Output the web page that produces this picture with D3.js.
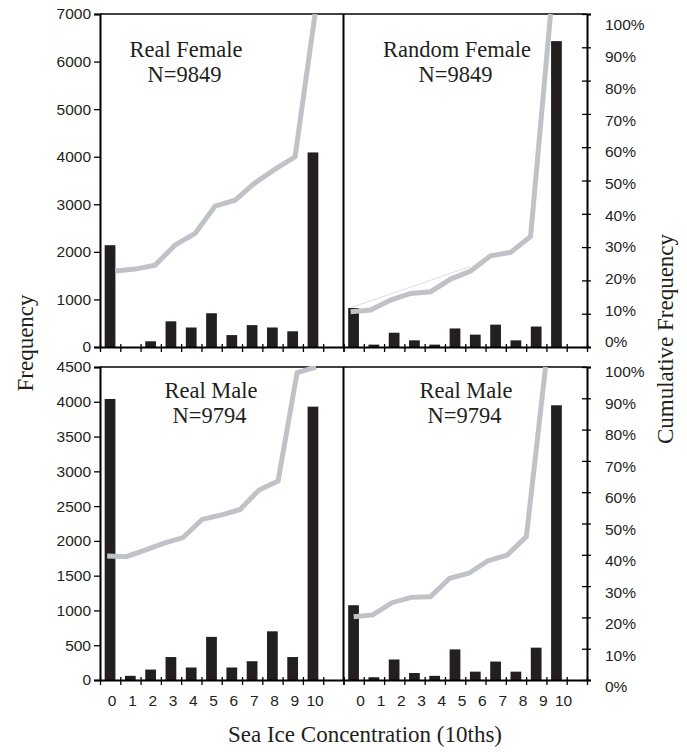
<!DOCTYPE html>
<html><head><meta charset="utf-8">
<script src="https://cdn.jsdelivr.net/npm/d3@7"></script>
<style>body{margin:0;background:#fff} svg{display:block}</style>
</head><body>
<svg id="chart" width="687" height="752"></svg>
<script>
// ---------- data ----------
const bins = ["0","1","2","3","4","5","6","7","8","9","10"];
const realFemale   = [2140, 0, 120, 540, 410, 710, 250, 460, 410, 330, 4090];
const randomFemale = [820, 50, 300, 140, 50, 390, 260, 470, 140, 430, 6430];
const realMaleA    = [4040, 60, 150, 330, 180, 620, 180, 270, 700, 330, 3930];
const realMaleB    = [1075, 40, 295, 100, 60, 440, 120, 265, 120, 465, 3950];
// cumulative frequency (%)
const cumRealFemale   = [22.8, 23.4, 24.6, 30.6, 34.1, 42.3, 44.1, 49.3, 53.4, 57.1, 100];
const cumRandomFemale = [10.6, 11.1, 14.1, 16.1, 16.6, 20.4, 22.8, 27.4, 28.4, 33.2, 100];
const cumRealMaleA    = [39.6, 39.4, 41.5, 43.7, 45.5, 51.3, 52.7, 54.5, 60.7, 63.6, 98.2, 100];
const cumRealMaleB    = [20.2, 20.8, 24.7, 26.4, 26.6, 32.5, 34.1, 38.1, 39.9, 45.8, 100];
const refRandomFemaleBins = [0, 6];
const refRandomFemale     = [11.8, 24.2];
const freqTicksTop    = [0, 1000, 2000, 3000, 4000, 5000, 6000, 7000];
const freqTicksBottom = [0, 500, 1000, 1500, 2000, 2500, 3000, 3500, 4000, 4500];
const pctTicks = [0, 10, 20, 30, 40, 50, 60, 70, 80, 90, 100];
const panelTitles = ["Real Female", "Random Female", "Real Male", "Real Male"];
const panelN      = ["N=9849", "N=9849", "N=9794", "N=9794"];
const yLabel = "Frequency";
const y2Label = "Cumulative Frequency";
const xLabel = "Sea Ice Concentration (10ths)";

// ---------- layout ----------
const svg = d3.select("#chart");
const L = 100, R = 587, M = (L + R) / 2;
const SERIF = "'Liberation Serif','Times New Roman',serif";
const SANS = "'Liberation Sans',Arial,sans-serif";
const BAR = "#231f20", LINE = "#bfc3c7", TXT = "#231f20";

const rows = [
  {y0: 14, y1: 347, max: 7000, ticks: freqTicksTop, pctLab: [342, 25], labels: false, ty: [57, 82]},
  {y0: 367, y1: 680, max: 4500, ticks: freqTicksBottom, pctLab: [687, 372], labels: true, ty: [398, 423]}
];
// shift = pixel nudge of the cumulative line's first/last vertex relative to bin centres
const panels = [
  {row: 0, side: 0, bars: realFemale, cum: cumRealFemale, title: panelTitles[0], n: panelN[0], tx: 186, lab: 2, shift: [5, 2]},
  {row: 0, side: 1, bars: randomFemale, cum: cumRandomFemale, title: panelTitles[1], n: panelN[1], tx: 457, lab: 7, shift: [-3, -6], ref: true},
  {row: 1, side: 0, bars: realMaleA, cum: cumRealMaleA, title: panelTitles[2], n: panelN[2], tx: 211, lab: 2, shift: [-3, 3]},
  {row: 1, side: 1, bars: realMaleB, cum: cumRealMaleB, title: panelTitles[3], n: panelN[3], tx: 466, lab: 7, shift: [0, -11]}
];

rows.forEach((r, ri) => {
  r.y = d3.scaleLinear().domain([0, r.max]).range([r.y1, r.y0]);
  r.p = d3.scaleLinear().domain([0, 100]).range([r.y1, r.y0]);
  r.pl = d3.scaleLinear().domain([0, 100]).range(r.pctLab);

  // left axis
  const gl = svg.append("g").attr("transform", `translate(${L},0)`)
    .call(d3.axisLeft(r.y).tickValues(r.ticks).tickFormat(d3.format("d")).tickSize(6).tickPadding(3));
  gl.select(".domain").attr("stroke", "#000").attr("stroke-width", 2);
  gl.selectAll(".tick line").attr("stroke", "#000").attr("stroke-width", 1.3);
  gl.selectAll(".tick text").attr("font-family", SANS).attr("font-size", 15.5).attr("fill", TXT);

  // right axis (ticks) + labels
  const gr = svg.append("g").attr("transform", `translate(${R},0)`)
    .call(d3.axisRight(r.p).tickValues(pctTicks).tickSize(4).tickFormat(""));
  gr.select(".domain").attr("stroke", "#000").attr("stroke-width", 2);
  gr.selectAll(".tick line").attr("x1", -5).attr("x2", 4).attr("stroke", "#000").attr("stroke-width", 1.3);
  svg.append("g").selectAll("text").data(pctTicks).join("text")
    .attr("x", R + 18).attr("y", d => r.pl(d)).attr("dy", "0.35em")
    .attr("font-family", SANS).attr("font-size", 15.5).attr("fill", TXT)
    .text(d => d + "%");

  // top border
  svg.append("line").attr("x1", L).attr("x2", R).attr("y1", r.y0).attr("y2", r.y0)
    .attr("stroke", "#000").attr("stroke-width", 1.6);
  // divider
  svg.append("line").attr("x1", M).attr("x2", M).attr("y1", r.y0).attr("y2", r.y1)
    .attr("stroke", "#000").attr("stroke-width", 2);

  // clip
  svg.append("clipPath").attr("id", "clip" + ri).append("rect")
    .attr("x", L).attr("y", r.y0 - 1).attr("width", R - L).attr("height", r.y1 - r.y0 + 1);
});

panels.forEach(pn => {
  const r = rows[pn.row];
  const x0 = pn.side === 0 ? L : M, x1 = pn.side === 0 ? M : R;
  const slot = d3.scaleBand().domain(d3.range(12)).range([x0, x1]).padding(0);
  const bw = slot.bandwidth();
  const cx = i => slot(i) + bw / 2;

  // bars
  svg.append("g").selectAll("rect").data(pn.bars).join("rect")
    .attr("x", (d, i) => slot(i) + bw * 0.23)
    .attr("width", bw * 0.53)
    .attr("y", d => r.y(d))
    .attr("height", d => r.y(0) - r.y(d))
    .attr("fill", BAR);

  // cumulative line (vertices spread evenly over bin centres 0..10)
  const lx = d3.scalePoint().domain(d3.range(pn.cum.length))
    .range([cx(0) + pn.shift[0], cx(10) + pn.shift[1]]);
  const gline = svg.append("g").attr("clip-path", `url(#clip${pn.row})`);
  if (pn.ref) {
    const rx = d3.scaleLinear().domain([0, 10]).range(lx.range());
    gline.append("path")
      .datum(refRandomFemale.map((v, k) => [rx(refRandomFemaleBins[k]), r.p(v)]))
      .attr("d", d3.line()).attr("fill", "none").attr("stroke", "#d4d6d8").attr("stroke-width", 0.8);
  }
  gline.append("path")
    .datum(pn.cum)
    .attr("d", d3.line().x((d, i) => lx(i)).y(d => r.p(d)))
    .attr("fill", "none").attr("stroke", LINE).attr("stroke-width", 5)
    .attr("stroke-linejoin", "miter");

  // x axis
  const xs = d3.scaleLinear().domain([0, 12]).range([x0, x1]);
  const gx = svg.append("g").attr("transform", `translate(0,${r.y1})`)
    .call(d3.axisBottom(xs).tickValues(d3.range(13)).tickFormat("").tickSizeOuter(0));
  gx.select(".domain").attr("stroke", "#000").attr("stroke-width", 2);
  gx.selectAll(".tick line").attr("y1", -3).attr("y2", 5).attr("stroke", "#000").attr("stroke-width", 1.3);

  if (r.labels) {
    svg.append("g").selectAll("text").data(bins).join("text")
      .attr("x", (d, i) => cx(i) + pn.lab).attr("y", 706)
      .attr("text-anchor", "middle")
      .attr("font-family", SANS).attr("font-size", 15.5).attr("fill", TXT)
      .text(d => d);
  }

  // titles
  svg.append("text").attr("x", pn.tx).attr("y", r.ty[0]).attr("text-anchor", "middle")
    .attr("font-family", SERIF).attr("font-size", 22.5).attr("fill", TXT).text(pn.title);
  svg.append("text").attr("x", pn.tx - 1.5).attr("y", r.ty[1]).attr("text-anchor", "middle")
    .attr("font-family", SERIF).attr("font-size", 22.5).attr("fill", TXT).text(pn.n);
});

// axis titles
svg.append("text").attr("transform", "translate(33,343) rotate(-90)").attr("text-anchor", "middle")
  .attr("font-family", SERIF).attr("font-size", 23).attr("fill", TXT).text(yLabel);
svg.append("text").attr("transform", "translate(673,339) rotate(-90)").attr("text-anchor", "middle")
  .attr("font-family", SERIF).attr("font-size", 23).attr("fill", TXT).text(y2Label);
svg.append("text").attr("x", 365).attr("y", 742).attr("text-anchor", "middle")
  .attr("font-family", SERIF).attr("font-size", 23).attr("fill", TXT).text(xLabel);
</script>
</body></html>
